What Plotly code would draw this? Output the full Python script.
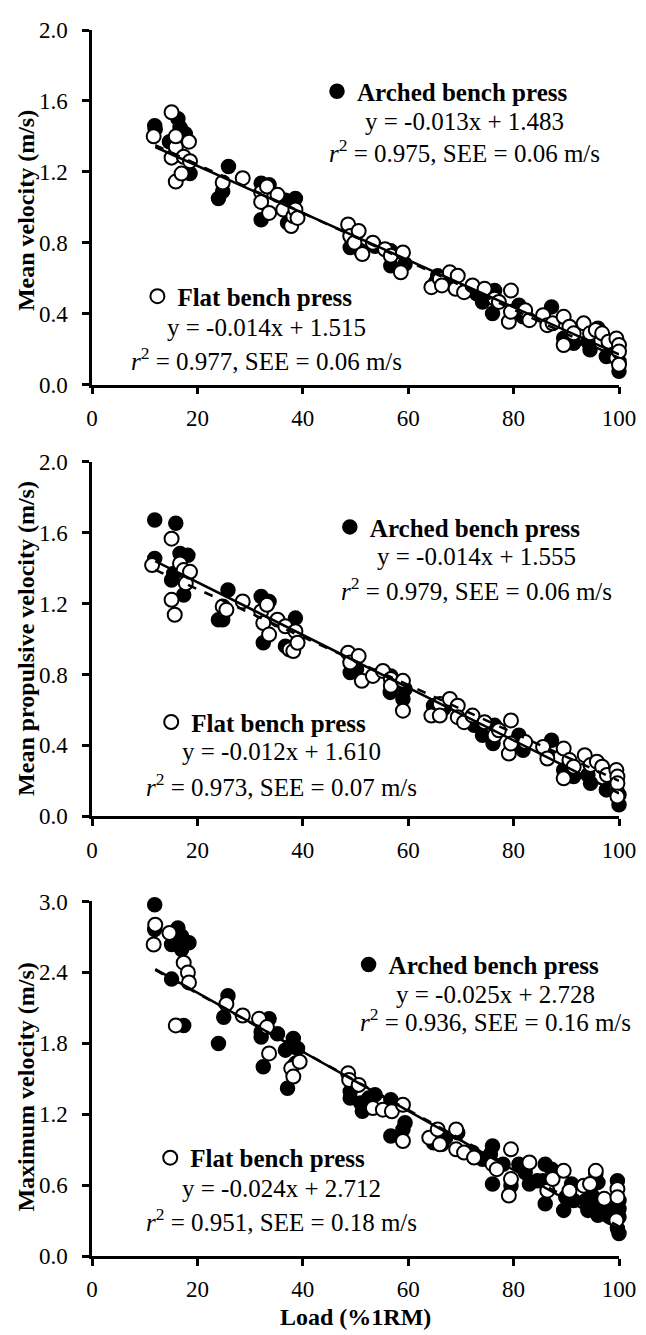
import plotly.graph_objects as go

# ---------------- data ----------------
# Panel 1: Mean velocity (m/s)
mv_arched_x = [11.9, 12.0, 14.7, 16.3, 16.7, 17.7, 18.6, 24.0, 24.8, 25.9, 32.1, 32.1, 33.6, 36.7, 37.1, 38.6,
               49.0, 51.0, 53.7, 56.7, 56.7, 59.4, 65.2, 65.6, 68.7, 73.0, 74.1, 76.0, 76.4, 81.0, 81.8,
               86.4, 87.2, 89.5, 91.4, 94.1, 94.5, 96.0, 97.6, 98.3, 100, 100]
mv_arched_y = [1.46, 1.44, 1.37, 1.50, 1.45, 1.415, 1.19, 1.05, 1.09, 1.23, 1.136, 0.93, 1.127, 1.04, 0.912, 1.05,
               0.773, 0.754, 0.78, 0.754, 0.67, 0.68, 0.577, 0.614, 0.596, 0.512, 0.466, 0.40, 0.53, 0.447, 0.382,
               0.345, 0.438, 0.261, 0.233, 0.242, 0.196, 0.317, 0.158, 0.168, 0.075, 0.13]
mv_flat_x = [11.7, 15.1, 15.1, 15.9, 15.9, 15.9, 17.0, 17.4, 18.4, 18.6, 24.8, 28.6, 32.1, 32.1, 33.2, 33.6,
             35.2, 36.3, 37.8, 38.2, 38.6, 39.0, 48.6, 49.0, 49.8, 50.6, 51.3, 53.3, 55.6, 56.7, 58.6, 59.0,
             64.4, 66.0, 66.4, 67.9, 69.0, 69.4, 70.6, 72.2, 74.5, 76.4, 77.2, 79.1, 79.5, 79.5, 82.2, 83.0,
             85.6, 86.4, 87.4, 89.5, 89.5, 90.6, 91.4, 93.3, 94.5, 95.6, 96.8, 98.0, 99.5, 99.5, 100, 100, 100]
mv_flat_y = [1.40, 1.536, 1.28, 1.34, 1.145, 1.40, 1.19, 1.285, 1.37, 1.26, 1.14, 1.164, 1.084, 1.03, 1.117, 0.968,
             1.07, 0.987, 0.894, 0.95, 0.987, 0.94, 0.903, 0.838, 0.80, 0.866, 0.736, 0.80, 0.763, 0.726, 0.633, 0.745,
             0.549, 0.596, 0.559, 0.633, 0.54, 0.614, 0.521, 0.559, 0.54, 0.484, 0.466, 0.354, 0.53, 0.41, 0.419, 0.363,
             0.391, 0.335, 0.345, 0.382, 0.223, 0.326, 0.289, 0.345, 0.289, 0.307, 0.289, 0.242, 0.26, 0.149, 0.223, 0.186, 0.112]

# Panel 2: Mean propulsive velocity (m/s)
mpv_arched_x = [11.9, 11.9, 15.1, 15.5, 15.9, 16.7, 17.4, 18.2, 24.0, 24.8, 25.8, 32.1, 32.5, 33.6, 36.7, 38.6,
                49.0, 50.2, 56.6, 56.7, 59.0, 59.4, 64.8, 66.7, 72.5, 74.1, 76.1, 76.4, 81.0, 81.8,
                86.4, 87.2, 89.5, 91.4, 94.1, 94.6, 96.0, 97.6, 98.3, 100, 100]
mpv_arched_y = [1.672, 1.454, 1.333, 1.37, 1.653, 1.482, 1.249, 1.472, 1.109, 1.109, 1.277, 1.240, 0.979, 1.212, 0.96, 1.118,
                0.811, 0.83, 0.699, 0.792, 0.662, 0.718, 0.624, 0.606, 0.513, 0.457, 0.41, 0.513, 0.457, 0.373,
                0.345, 0.429, 0.261, 0.224, 0.233, 0.186, 0.298, 0.149, 0.158, 0.065, 0.121]
mpv_flat_x = [11.4, 15.1, 15.1, 15.7, 16.7, 17.4, 17.8, 18.6, 24.8, 25.5, 28.6, 32.1, 32.5, 33.2, 33.6, 35.2,
              36.7, 37.5, 38.2, 38.6, 39.0, 48.6, 49.0, 50.6, 51.2, 53.3, 55.2, 56.7, 56.7, 59.0, 59.0,
              64.4, 66.0, 66.0, 67.9, 69.4, 69.4, 70.6, 72.2, 74.5, 76.4, 77.2, 79.1, 79.5, 79.5, 82.2,
              85.6, 86.4, 89.5, 89.5, 90.6, 91.4, 93.5, 94.6, 95.8, 96.8, 97.7, 99.5, 99.5, 99.7, 99.7, 99.7]
mpv_flat_y = [1.417, 1.566, 1.221, 1.137, 1.426, 1.389, 1.314, 1.379, 1.184, 1.165, 1.212, 1.156, 1.090, 1.193, 1.025, 1.109,
              1.072, 0.941, 0.932, 1.044, 0.979, 0.923, 0.867, 0.904, 0.764, 0.792, 0.82, 0.774, 0.736, 0.764, 0.596,
              0.568, 0.634, 0.568, 0.662, 0.624, 0.559, 0.531, 0.568, 0.531, 0.457, 0.485, 0.354, 0.541, 0.41, 0.419,
              0.391, 0.326, 0.382, 0.214, 0.317, 0.28, 0.345, 0.289, 0.308, 0.28, 0.233, 0.261, 0.158, 0.224, 0.186, 0.112]

# Panel 3: Maximum velocity (m/s)
vmax_arched_x = [11.9, 11.9, 15.1, 15.1, 16.3, 16.7, 17.0, 17.0, 17.4, 18.4, 24.0, 25.0, 25.8, 32.1, 32.1, 32.5,
                 33.6, 35.2, 36.7, 37.1, 37.5, 38.2, 38.6, 39.0, 49.0, 49.0, 51.0, 51.3, 52.5, 53.7, 56.7,
                 56.7, 56.9, 59.4, 59.0, 64.8, 66.4, 67.1, 69.4, 72.2, 74.1, 75.6, 76.0, 76.0, 78.0, 79.5,
                 81.0, 82.2, 83.0, 84.5, 85.6, 86.0, 86.0, 87.2, 89.5, 89.9, 91.0, 91.4, 93.7, 94.1, 94.9,
                 95.3, 95.6, 96.0, 96.0, 98.0, 98.3, 99.7, 99.7, 100, 100, 100, 100]
vmax_arched_y = [2.972, 2.762, 2.636, 2.343, 2.776, 2.650, 2.594, 2.706, 1.951, 2.650, 1.798, 2.021, 2.203, 1.895, 1.853, 1.602,
                 2.007, 1.881, 1.742, 1.42, 1.770, 1.840, 1.630, 1.756, 1.392, 1.336, 1.294, 1.224, 1.336, 1.364, 1.322,
                 1.015, 1.266, 1.127, 1.071, 0.959, 0.945, 1.001, 1.043, 0.875, 0.819, 0.861, 0.931, 0.609, 0.777, 0.595,
                 0.777, 0.707, 0.609, 0.637, 0.637, 0.777, 0.442, 0.735, 0.386, 0.498, 0.609, 0.470, 0.470, 0.386, 0.512,
                 0.428, 0.693, 0.623, 0.344, 0.400, 0.330, 0.637, 0.232, 0.400, 0.330, 0.190, 0.470]
vmax_flat_x = [11.7, 12.0, 14.7, 15.9, 17.4, 18.2, 18.4, 25.5, 28.6, 31.7, 33.2, 33.6, 37.8, 38.2, 39.4,
               48.6, 48.8, 50.6, 53.3, 55.2, 56.9, 59.0, 59.0, 64.0, 65.6, 66.0, 69.1, 69.1, 70.6, 72.5,
               76.0, 76.8, 79.1, 79.5, 79.5, 83.0, 86.4, 87.4, 89.5, 90.6, 93.3, 94.5, 95.6, 97.2,
               99.5, 99.7, 99.7]
vmax_flat_y = [2.636, 2.804, 2.734, 1.951, 2.482, 2.399, 2.315, 2.133, 2.035, 2.007, 1.937, 1.714, 1.588, 1.518, 1.644,
               1.546, 1.490, 1.448, 1.252, 1.238, 1.224, 1.280, 0.973, 1.001, 1.071, 0.945, 1.071, 0.903, 0.875, 0.833,
               0.777, 0.735, 0.512, 0.903, 0.651, 0.791, 0.553, 0.651, 0.721, 0.553, 0.595, 0.609, 0.721, 0.484,
               0.302, 0.568, 0.498]

# regression lines, as drawn (start and end load, velocity)
fit_x = [12, 100]
mv_fit_arched = [1.34, 0.17]
mv_fit_flat = [1.35, 0.15]
mpv_fit_arched = [1.44, 0.13]
mpv_fit_flat = [1.39, 0.20]
vmax_fit_arched = [2.428, 0.228]
vmax_fit_flat = [2.42, 0.25]

# text
series_names = ["Arched bench press", "Flat bench press"]
y_titles = ["Mean velocity (m/s)", "Mean propulsive velocity (m/s)", "Maximum velocity (m/s)"]
x_title = "Load (%1RM)"
equations = [["y = -0.013x + 1.483", "y = -0.014x + 1.515"],
             ["y = -0.014x + 1.555", "y = -0.012x + 1.610"],
             ["y = -0.025x + 2.728", "y = -0.024x + 2.712"]]
stats = [["<i>r</i><sup>2</sup> = 0.975, SEE = 0.06 m/s", "<i>r</i><sup>2</sup> = 0.977, SEE = 0.06 m/s"],
         ["<i>r</i><sup>2</sup> = 0.979, SEE = 0.06 m/s", "<i>r</i><sup>2</sup> = 0.973, SEE = 0.07 m/s"],
         ["<i>r</i><sup>2</sup> = 0.936, SEE = 0.16 m/s", "<i>r</i><sup>2</sup> = 0.951, SEE = 0.18 m/s"]]
y_ranges = [[0, 2.0], [0, 2.0], [0, 3.0]]
y_dticks = [0.4, 0.4, 0.6]
x_ticks = [0, 20, 40, 60, 80, 100]

# ---------------- layout geometry ----------------
# The page body has an 8 px default margin, so the figure is drawn 8 px right/down.
OFF = 8
W, H = 646 - OFF, 1335 - OFF
L, R, T, B = 92 - OFF, 20, 18 - OFF, 79
PW, PH = W - L - R, H - T - B


def px_x(px):
    # reference page pixel -> paper coordinate
    return (px - OFF - L) / PW


def px_y(py):
    return (H - B - (py - OFF)) / PH


panel_px = [(18, 376), (454, 812), (898, 1256)]
domains = [[px_y(b), px_y(t)] for t, b in panel_px]

FONT = "Liberation Serif"

fig = go.Figure()

panels = [
    (mv_arched_x, mv_arched_y, mv_flat_x, mv_flat_y, mv_fit_arched, mv_fit_flat),
    (mpv_arched_x, mpv_arched_y, mpv_flat_x, mpv_flat_y, mpv_fit_arched, mpv_fit_flat),
    (vmax_arched_x, vmax_arched_y, vmax_flat_x, vmax_flat_y, vmax_fit_arched, vmax_fit_flat),
]

legend_ids = [("legend", "legend2"), ("legend3", "legend4"), ("legend5", "legend6")]

for i, (ax, ay, fx, fy, fa, ff) in enumerate(panels):
    xa = "x" if i == 0 else f"x{i+1}"
    ya = "y" if i == 0 else f"y{i+1}"
    fig.add_trace(go.Scatter(x=ax, y=ay, mode="markers", name=series_names[0],
                             xaxis=xa, yaxis=ya, cliponaxis=False, legend=legend_ids[i][0],
                             marker=dict(size=14, color="black", line=dict(color="black", width=1.5))))
    fig.add_trace(go.Scatter(x=fx, y=fy, mode="markers", name=series_names[1],
                             xaxis=xa, yaxis=ya, cliponaxis=False, legend=legend_ids[i][1],
                             marker=dict(size=14, color="white", line=dict(color="black", width=2))))
    fig.add_trace(go.Scatter(x=fit_x, y=ff, mode="lines", showlegend=False, xaxis=xa, yaxis=ya,
                             line=dict(color="black", width=2.5, dash="dash")))
    fig.add_trace(go.Scatter(x=fit_x, y=fa, mode="lines", showlegend=False, xaxis=xa, yaxis=ya,
                             line=dict(color="black", width=2.5)))

axis_common = dict(showgrid=False, zeroline=False, color="black",
                   tickfont=dict(family=FONT, size=23, color="black"))

layout = dict(
    width=W, height=H,
    margin=dict(l=L, r=R, t=T, b=B),
    paper_bgcolor="white", plot_bgcolor="white",
    font=dict(family=FONT, color="black"),
)

for i in range(3):
    n = "" if i == 0 else str(i + 1)
    layout[f"xaxis{n}"] = dict(axis_common, domain=[0, 1], anchor=f"y{n}", range=[0, 100],
                               tickvals=x_ticks, ticks="outside", ticklen=7, tickwidth=2.5,
                               showline=True, linewidth=2.5, linecolor="black",
                               ticklabelstandoff=4)
    layout[f"yaxis{n}"] = dict(axis_common, domain=domains[i], anchor=f"x{n}", range=y_ranges[i],
                               dtick=y_dticks[i], tick0=0, tickformat=".1f", ticks="outside",
                               ticklen=7, tickwidth=2.5, showline=True, linewidth=2.5,
                               linecolor="black", ticklabelstandoff=10)
    # inner halves of the crossing tick marks
    m = str(i + 4)
    layout[f"xaxis{m}"] = dict(showgrid=False, zeroline=False, overlaying=f"x{n}", anchor=f"y{n}",
                               domain=[0, 1], range=[0, 100], tickvals=x_ticks, ticks="inside",
                               ticklen=7, tickwidth=2.5, tickcolor="black", showticklabels=False,
                               showline=False)
    layout[f"yaxis{m}"] = dict(showgrid=False, zeroline=False, overlaying=f"y{n}", anchor=f"x{n}",
                               domain=domains[i], range=y_ranges[i], dtick=y_dticks[i], tick0=0,
                               ticks="inside", ticklen=7, tickwidth=2.5, tickcolor="black",
                               showticklabels=False, showline=False)

# legends (symbol + series name), positions of the symbol in reference pixels
legend_pos = [[(340, 80), (158, 287)], [(353, 520), (172, 717)], [(372, 962), (171, 1157)]]
for i in range(3):
    for j in range(2):
        mx, my = legend_pos[i][j]
        layout[legend_ids[i][j]] = dict(
            x=px_x(mx - 20), y=px_y(my), xanchor="left", yanchor="middle",
            xref="paper", yref="paper", bgcolor="rgba(0,0,0,0)", borderwidth=0,
            font=dict(family=FONT, size=25, color="black", weight="bold"),
            itemclick=False, itemdoubleclick=False)

annotations = []
eq_pos = [[(469, 110, 140), (269, 318, 350)],
          [(482, 550, 582), (284, 747, 780)],
          [(501, 992, 1018), (284, 1188, 1220)]]
for i in range(3):
    for j in range(2):
        cx, ey, sy = eq_pos[i][j]
        annotations.append(dict(text=equations[i][j], x=px_x(cx), y=px_y(ey), xref="paper", yref="paper",
                                showarrow=False, xanchor="center", yanchor="middle",
                                font=dict(family=FONT, size=25, color="black")))
        annotations.append(dict(text=stats[i][j], x=px_x(cx), y=px_y(sy), xref="paper", yref="paper",
                                showarrow=False, xanchor="center", yanchor="middle",
                                font=dict(family=FONT, size=25, color="black")))

title_y = [200, 632, 1085]
for i in range(3):
    annotations.append(dict(text=y_titles[i], x=px_x(25), y=px_y(title_y[i]), xref="paper", yref="paper",
                            showarrow=False, xanchor="center", yanchor="middle", textangle=-90,
                            font=dict(family=FONT, size=24, color="black", weight="bold")))
annotations.append(dict(text=x_title, x=px_x(359), y=px_y(1318), xref="paper", yref="paper",
                        showarrow=False, xanchor="center", yanchor="middle",
                        font=dict(family=FONT, size=24, color="black", weight="bold")))
layout["annotations"] = annotations

fig.update_layout(layout)
fig.write_html("out.html")
